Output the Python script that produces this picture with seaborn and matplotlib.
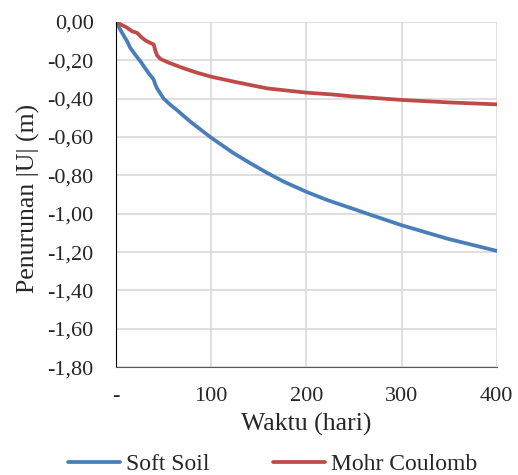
import numpy as np
import pandas as pd
import seaborn as sns
import matplotlib.pyplot as plt
from matplotlib.ticker import FuncFormatter

# Soft Soil curve (hari, settlement m)
soft_x = [0, 6.3, 11.5, 15, 20, 25.5, 29, 34, 37.8, 39.4, 41.3, 43, 46.5, 50, 57, 64, 78,
          100, 124, 141.5, 159, 176.7, 200, 222.5, 247, 261, 300, 348, 400]
soft_y = [0, -0.057, -0.10, -0.136, -0.17, -0.205, -0.23, -0.266, -0.29, -0.30, -0.327,
          -0.346, -0.373, -0.40, -0.432, -0.46, -0.52, -0.604, -0.686, -0.738, -0.788,
          -0.834, -0.886, -0.93, -0.971, -0.995, -1.06, -1.13, -1.194]

# Mohr Coulomb curve
mc_x = [0, 6.3, 11.5, 16.8, 22, 27.3, 31, 36, 39.6, 41.3, 43, 46.5, 55, 71, 85, 100, 124,
        159, 200, 226, 247, 300, 350, 400]
mc_y = [0, -0.017, -0.03, -0.049, -0.057, -0.083, -0.097, -0.11, -0.118, -0.15, -0.174,
        -0.193, -0.212, -0.242, -0.265, -0.286, -0.312, -0.347, -0.369, -0.378, -0.388,
        -0.407, -0.42, -0.43]

df = pd.concat([
    pd.DataFrame({'Waktu': soft_x, 'U': soft_y, 'Model': 'Soft Soil'}),
    pd.DataFrame({'Waktu': mc_x, 'U': mc_y, 'Model': 'Mohr Coulomb'}),
])

sns.set_style('white')
plt.rcParams['font.family'] = ['Liberation Serif', 'DejaVu Serif']

fig = plt.figure(figsize=(5.18, 4.75), dpi=100)
ax = fig.add_axes([0.224, 0.227, 0.735, 0.727])

sns.lineplot(data=df, x='Waktu', y='U', hue='Model', sort=False, ax=ax,
             palette={'Soft Soil': '#4A7EBB', 'Mohr Coulomb': '#BE4B48'},
             linewidth=2.7, legend=True)
for ln in ax.lines:
    ln.set_solid_joinstyle('round')
    ln.set_solid_capstyle('round')

ax.set_xlim(0, 400)
ax.set_ylim(-1.8, 0)
ax.set_xticks([0, 100, 200, 300, 400])
ax.set_yticks(np.arange(-1.8, 0.01, 0.2))
ax.xaxis.set_major_formatter(FuncFormatter(lambda v, p: '-' if v == 0 else f'{v:.0f}'))
ax.yaxis.set_major_formatter(FuncFormatter(lambda v, p: f'{v:.2f}'.replace('.', ',').replace('-0,00', '0,00')))
ax.grid(True, color='#D9D9D9', linewidth=1.2)
ax.set_axisbelow(True)
for s in ['top', 'right']:
    ax.spines[s].set_visible(False)
ax.spines['left'].set_color('black')
ax.spines['bottom'].set_color('#595959')
ax.tick_params(labelsize=16, length=0)
ax.tick_params(axis='y', pad=16)
ax.tick_params(axis='x', pad=14)
ax.set_xlabel('Waktu (hari)', fontsize=18.5, labelpad=5)
ax.set_ylabel('Penurunan |U| (m)', fontsize=18.5)
ax.yaxis.set_label_coords(-0.2, 0.49)

ax.legend(loc='center', bbox_to_anchor=(0.527, 0.022), bbox_transform=fig.transFigure,
          ncol=2, frameon=False, fontsize=17, handlelength=2.2, columnspacing=2.7,
          handletextpad=0.25, borderaxespad=0, borderpad=0)

fig.savefig('out.png', dpi=100)
